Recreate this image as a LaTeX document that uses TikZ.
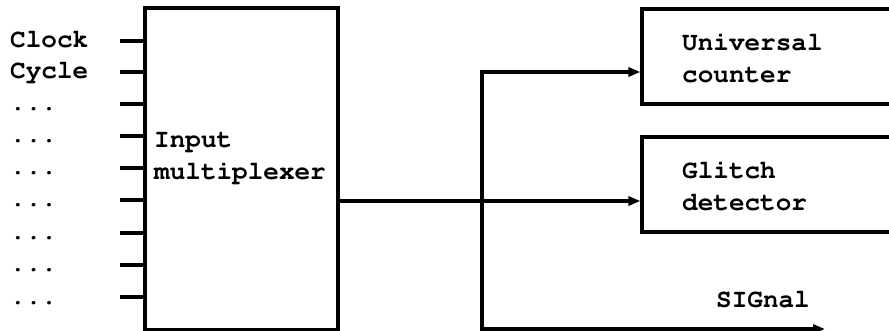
\documentclass[tikz,border=0pt]{standalone}
\usepackage[T1]{fontenc}
\usepackage{courier}
\usetikzlibrary{arrows.meta}
\newcommand\mydots{...}
\begin{document}
\begin{tikzpicture}[x=1pt,y=-1pt,
  >={Triangle[length=12pt,width=9pt]},
  wire/.style={line width=3.1pt},
  arr/.style={wire,->},
  txt/.style={font=\fontsize{26}{32}\selectfont\ttfamily\bfseries, inner sep=0pt, anchor=base west},
  blk/.style={draw, line width=3.1pt, inner sep=0pt}]
\useasboundingbox (0,0) rectangle (889,331);
\clip (0,0) rectangle (889,331);
% blocks
\node[blk, minimum width=193pt, minimum height=322pt] (mux) at (241.5,169) {};
\node[txt] (muxlbl) at (154,148) {\begin{tabular}[t]{@{}l@{}}Input\\multiplexer\end{tabular}};
\node[blk, minimum width=258pt, minimum height=95pt] (uc) at (771,56.5) {};
\node[txt] (uclbl) at (682,51) {\begin{tabular}[t]{@{}l@{}}Universal\\counter\end{tabular}};
\node[blk, minimum width=258pt, minimum height=95pt] (gd) at (771,184.5) {};
\node[txt] (gdlbl) at (682,179) {\begin{tabular}[t]{@{}l@{}}Glitch\\detector\end{tabular}};
\node[txt] (sig) at (716,307) {SIGnal};
% inputs
\foreach \i/\y/\t in {1/41/Clock,2/72/Cycle,3/104/\mydots,4/136/\mydots,5/168/\mydots,6/200/\mydots,7/233/\mydots,8/265/\mydots,9/297/\mydots}{
  \coordinate (in\i) at (120,\y);
  \node[txt] (lab\i) at (10,\y+7) {\t};
  \draw[wire] (in\i) -- (mux.west |- in\i);
}
% outputs
\coordinate (out) at (338,201);
\coordinate (jt) at (482,72);
\coordinate (jb) at (482,329);
\coordinate (send) at (825,329);
\draw[arr] (out) -- (out -| gd.west);
\draw[wire, <->] (uc.west |- jt) -- (jt) -- (jb) -- (send);
\end{tikzpicture}
\end{document}
